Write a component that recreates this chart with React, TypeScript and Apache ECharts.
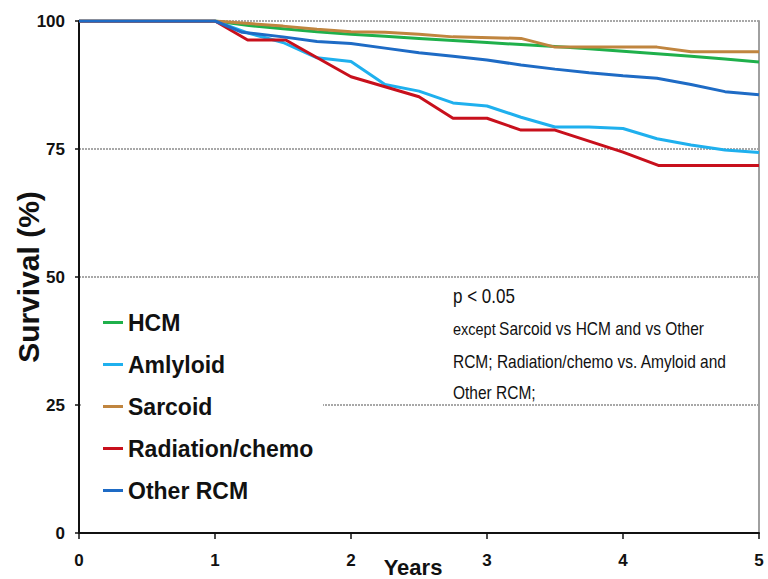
import { useEffect, useRef } from "react";
import * as echarts from "echarts";

const seriesNames = ["HCM", "Amlyloid", "Sarcoid", "Radiation/chemo", "Other RCM"];
const seriesColors = ["#1fb04b", "#1fb0ee", "#c0853f", "#c8101c", "#1e6bc5"];

const hcm: [number, number][] = [
  [0, 100], [1, 100], [1.25, 99.1], [1.5, 98.5], [1.75, 97.9], [2, 97.4], [2.25, 97.0],
  [2.5, 96.6], [2.75, 96.2], [3, 95.8], [3.25, 95.4], [3.5, 95.0], [3.75, 94.6], [4, 94.1],
  [4.25, 93.6], [4.5, 93.1], [4.75, 92.6], [5, 92.0],
];
const amyloid: [number, number][] = [
  [0, 100], [1, 100], [1.25, 97.6], [1.5, 95.8], [1.75, 92.8], [2, 92.1], [2.25, 87.6],
  [2.5, 86.3], [2.75, 84.0], [3, 83.4], [3.25, 81.2], [3.5, 79.3], [3.75, 79.3], [4, 79.0],
  [4.25, 77.0], [4.5, 75.8], [4.75, 74.8], [5, 74.3],
];
const sarcoid: [number, number][] = [
  [0, 100], [1, 100], [1.25, 99.5], [1.5, 99.0], [1.75, 98.4], [2, 97.9], [2.25, 97.8],
  [2.5, 97.4], [2.75, 96.9], [3.25, 96.6], [3.5, 94.9], [4.25, 94.9], [4.5, 94.0], [5, 94.0],
];
const radiation: [number, number][] = [
  [0, 100], [1, 100], [1.24, 96.3], [1.52, 96.3], [2, 89.1], [2.5, 85.2], [2.75, 81.0],
  [3, 81.0], [3.25, 78.7], [3.5, 78.7], [4, 74.4], [4.26, 71.8], [5, 71.8],
];
const otherRcm: [number, number][] = [
  [0, 100], [1, 100], [1.2, 97.8], [1.5, 96.9], [1.75, 96.0], [2, 95.6], [2.25, 94.7],
  [2.5, 93.8], [2.75, 93.1], [3, 92.4], [3.25, 91.4], [3.5, 90.6], [3.75, 89.9], [4, 89.3],
  [4.25, 88.8], [4.5, 87.6], [4.75, 86.2], [5, 85.6],
];
const seriesData = [hcm, amyloid, sarcoid, radiation, otherRcm];

const annotationLines = [
  "p < 0.05",
  "Sarcoid vs HCM and vs Other",
  "RCM; Radiation/chemo vs. Amyloid and",
  "Other RCM;",
];

const SANS = "'Liberation Sans', Arial, sans-serif";

export default function App() {
  const ref = useRef<HTMLDivElement>(null);
  useEffect(() => {
    if (!ref.current) return;
    const chart = echarts.init(ref.current, undefined, { renderer: "svg" });
    chart.setOption({
      animation: false,
      backgroundColor: "#ffffff",
      grid: { left: 79, right: 9, top: 21, bottom: 46, outerBoundsMode: "none", containLabel: false },
      xAxis: {
        type: "value",
        min: 0,
        max: 5,
        interval: 1,
        axisLine: { show: true, onZero: false, lineStyle: { color: "#111", width: 2 } },
        axisTick: { show: true, length: 6, lineStyle: { color: "#111", width: 1.5 } },
        axisLabel: { fontFamily: SANS, fontWeight: "bold", fontSize: 17, color: "#111", margin: 19 },
        splitLine: { show: false },
        name: "Years",
        nameLocation: "middle",
        nameGap: 23,
        nameMoveOverlap: false,
        nameTextStyle: {
          fontFamily: SANS, fontWeight: "bold", fontSize: 22, color: "#111",
          padding: [0, 12, 0, 0],
        },
      },
      yAxis: [
        {
          type: "value",
          min: 0,
          max: 100,
          interval: 25,
          axisLine: { show: true, lineStyle: { color: "#111", width: 2 } },
          axisTick: { show: true, length: 4, lineStyle: { color: "#111", width: 1.5 } },
          axisLabel: { fontFamily: SANS, fontWeight: "bold", fontSize: 17, color: "#111", margin: 14 },
          splitLine: { show: true, lineStyle: { color: "#a8a8a8", width: 2, type: [2, 1] } },
          name: "Survival (%)",
          nameLocation: "middle",
          nameRotate: 90,
          nameGap: 36,
          nameMoveOverlap: false,
          nameTextStyle: { fontFamily: SANS, fontWeight: "bold", fontSize: 30, color: "#111" },
        },
        {
          type: "value",
          min: 0,
          max: 100,
          interval: 25,
          position: "right",
          axisLine: { show: true, lineStyle: { color: "#a0a0a0", width: 2 } },
          axisTick: { show: false },
          axisLabel: { show: false },
          splitLine: { show: false },
        },
      ],
      legend: {
        orient: "vertical",
        left: 103,
        top: 311,
        padding: 0,
        itemWidth: 20,
        itemHeight: 3,
        itemGap: 19,
        icon: "rect",
        selectedMode: false,
        data: seriesNames,
        textStyle: { fontFamily: SANS, fontWeight: "bold", fontSize: 23, lineHeight: 23, color: "#111" },
      },
      graphic: [
        { type: "rect", z: 3, shape: { x: 81, y: 398, width: 242, height: 14 }, style: { fill: "#ffffff" } },
        {
          type: "text", z: 5, x: 453, y: 296, scaleY: 1.2,
          style: { text: annotationLines[0], font: `17px ${SANS}`, fill: "#111", verticalAlign: "middle" },
        },
        {
          type: "text", z: 5, x: 453, y: 329, scaleY: 1.2,
          style: {
            text: `{a|except} {b|${annotationLines[1]}}`,
            verticalAlign: "middle",
            rich: {
              a: { fontFamily: SANS, fontSize: 14.5, fill: "#111", color: "#111" },
              b: { fontFamily: SANS, fontSize: 15.5, fill: "#111", color: "#111" },
            },
          },
        },
        {
          type: "text", z: 5, x: 453, y: 362, scaleY: 1.2,
          style: { text: annotationLines[2], font: `15.5px ${SANS}`, fill: "#111", verticalAlign: "middle" },
        },
        {
          type: "text", z: 5, x: 453, y: 393, scaleY: 1.2,
          style: { text: annotationLines[3], font: `15.5px ${SANS}`, fill: "#111", verticalAlign: "middle" },
        },
      ],
      series: seriesNames.map((name, i) => ({
        name,
        type: "line",
        data: seriesData[i],
        showSymbol: false,
        symbol: "none",
        color: seriesColors[i],
        lineStyle: { color: seriesColors[i], width: 3 },
        z: 2 + i,
      })),
    });
    return () => chart.dispose();
  }, []);
  return <div ref={ref} style={{ position: "fixed", left: 0, top: 0, width: 768, height: 579 }} />;
}
